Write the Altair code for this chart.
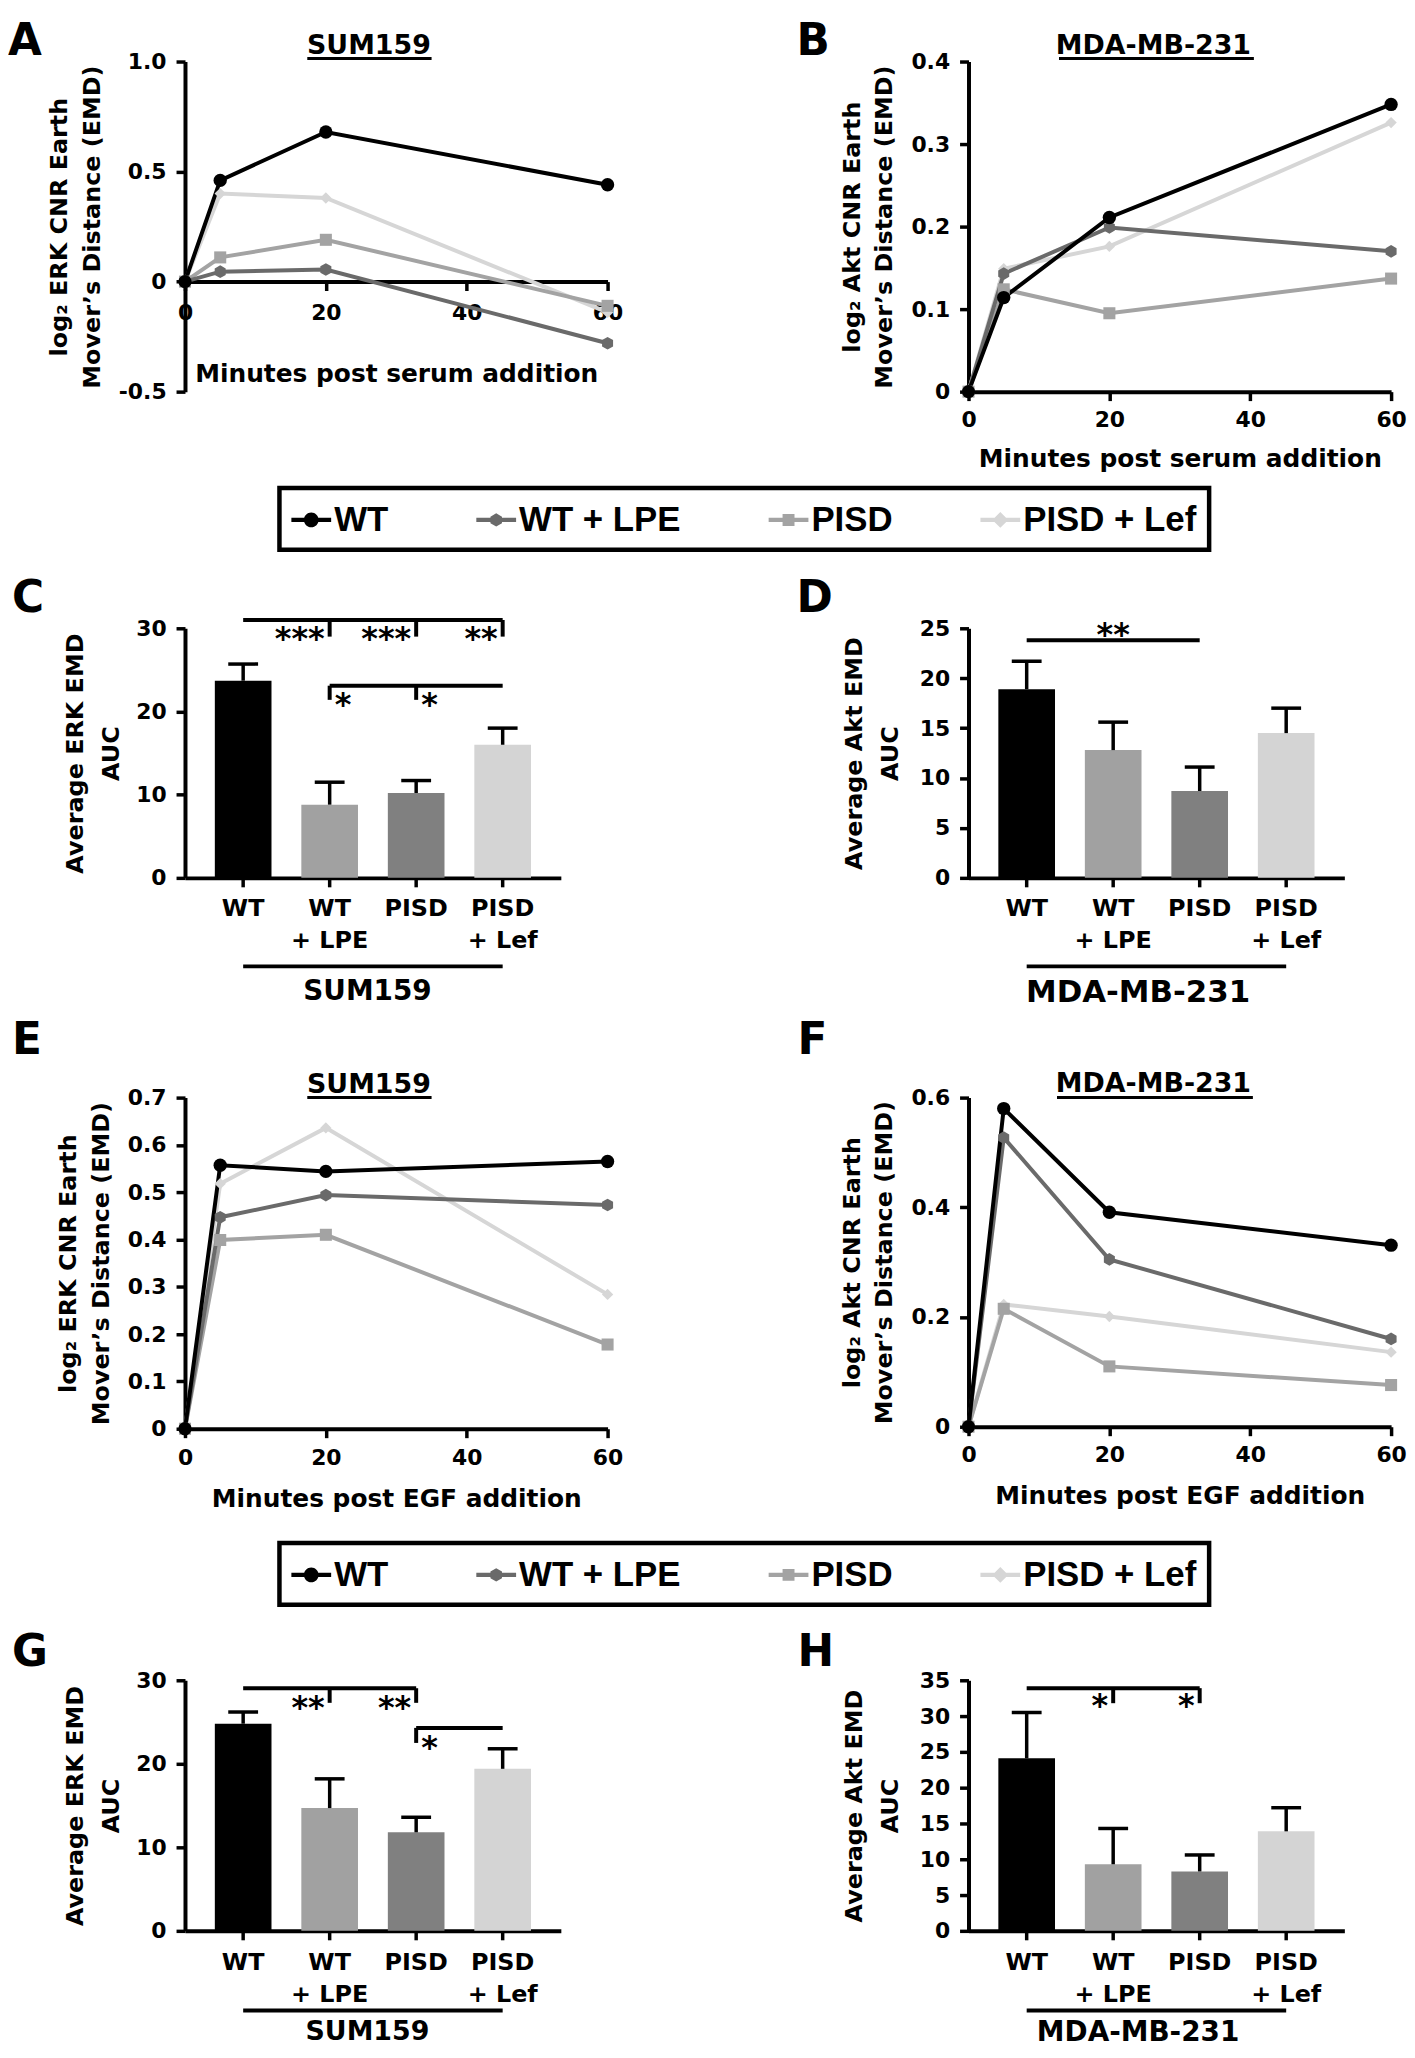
import altair as alt
import pandas as pd

# ---------------- data ----------------
SERIES = ["WT", "WT + LPE", "PISD", "PISD + Lef"]
TIMES = [0, 5, 20, 60]

# A: SUM159, ERK, serum
A_WT = [0.0, 0.46, 0.68, 0.44]
A_LPE = [0.0, 0.045, 0.055, -0.28]
A_PISD = [0.0, 0.11, 0.19, -0.11]
A_LEF = [0.0, 0.40, 0.38, -0.14]
# B: MDA-MB-231, Akt, serum
B_WT = [0.0, 0.114, 0.211, 0.348]
B_LPE = [0.0, 0.143, 0.199, 0.170]
B_PISD = [0.0, 0.124, 0.095, 0.137]
B_LEF = [0.0, 0.149, 0.176, 0.326]
# E: SUM159, ERK, EGF
E_WT = [0.0, 0.557, 0.544, 0.565]
E_LPE = [0.0, 0.447, 0.494, 0.473]
E_PISD = [0.0, 0.399, 0.410, 0.178]
E_LEF = [0.0, 0.518, 0.636, 0.284]
# F: MDA-MB-231, Akt, EGF
F_WT = [0.0, 0.580, 0.391, 0.331]
F_LPE = [0.0, 0.527, 0.305, 0.160]
F_PISD = [0.0, 0.215, 0.110, 0.076]
F_LEF = [0.0, 0.223, 0.201, 0.136]

BAR_CATS = ["WT", "WT\n+ LPE", "PISD", "PISD\n+ Lef"]
C_MEAN = [23.7, 8.8, 10.2, 16.0]
C_TOP = [25.7, 11.5, 11.7, 18.0]
D_MEAN = [18.9, 12.8, 8.7, 14.5]
D_TOP = [21.7, 15.6, 11.1, 17.0]
G_MEAN = [24.8, 14.7, 11.8, 19.4]
G_TOP = [26.2, 18.2, 13.6, 21.8]
H_MEAN = [24.1, 9.3, 8.3, 13.9]
H_TOP = [30.5, 14.3, 10.6, 17.2]

# significance brackets (category from, category to, level)
C_HLINES = [("WT", "PISD\n+ Lef", 31.0), ("WT\n+ LPE", "PISD\n+ Lef", 23.1)]
C_VTICKS = [("WT\n+ LPE", 31.0, 29.0), ("PISD", 31.0, 29.0), ("PISD\n+ Lef", 31.0, 29.0),
            ("WT\n+ LPE", 23.1, 21.4), ("PISD", 23.1, 21.4)]
C_STARS = [("WT\n+ LPE", "***", "right", 27.5), ("PISD", "***", "right", 27.5),
           ("PISD\n+ Lef", "**", "right", 27.5), ("WT\n+ LPE", "*", "left", 19.6),
           ("PISD", "*", "left", 19.6)]
D_HLINES = [("WT", "PISD", 23.8)]
D_VTICKS = []
D_STARS = [("WT\n+ LPE", "**", "center", 23.3)]
G_HLINES = [("WT", "PISD", 29.05), ("PISD", "PISD\n+ Lef", 24.3)]
G_VTICKS = [("WT\n+ LPE", 29.05, 27.3), ("PISD", 29.05, 27.3), ("PISD", 24.3, 22.5)]
G_STARS = [("WT\n+ LPE", "**", "right", 25.5), ("PISD", "**", "right", 25.5),
           ("PISD", "*", "left", 20.7)]
H_HLINES = [("WT", "PISD", 33.9)]
H_VTICKS = [("WT\n+ LPE", 33.9, 31.8), ("PISD", 33.9, 31.8)]
H_STARS = [("WT\n+ LPE", "*", "right", 30.0), ("PISD", "*", "right", 30.0)]

# ---------------- styles ----------------
LINE_COLORS = ["#000000", "#6a6a6a", "#a3a3a3", "#d6d6d6"]
BAR_COLORS = ["#000000", "#a1a1a1", "#808080", "#d4d4d4"]
MARKERS = ["circle", "M0,-1L0.866,-0.5L0.866,0.5L0,1L-0.866,0.5L-0.866,-0.5Z", "square", "diamond"]
MARKER_SIZES = [180, 130, 144, 190]
_BAR = "M-1,-0.11H1V0.11H-1Z "
LEG_SHAPES = [
    _BAR + "M0,-0.37A0.37,0.37,0,1,1,0,0.37A0.37,0.37,0,1,1,0,-0.37Z",
    _BAR + "M0,-0.33L0.29,-0.165L0.29,0.165L0,0.33L-0.29,0.165L-0.29,-0.165Z",
    _BAR + "M-0.3,-0.3H0.3V0.3H-0.3Z",
    _BAR + "M0,-0.4L0.4,0L0,0.4L-0.4,0Z",
]
LAB = "Liberation Sans"
TXT = "DejaVu Sans"
ONE = pd.DataFrame({"o": [0]})
YFMT = ("datum.value == 0 ? '0' : (datum.value < 0 ? '-' + format(-datum.value, '.1f') "
        ": format(datum.value, '.1f'))")

TOP_PAD = 6
LETTER_SIZE = 44
ROW_TOP = [56, 588, 1077, 1631]
COL_X = [186, 974]


def txt(text, x, y, size, font=TXT, align="left", baseline="alphabetic"):
    return alt.Chart(ONE).mark_text(text=text, font=font, fontSize=size, fontWeight="bold",
                                    align=align, baseline=baseline, color="black").encode(
        x=alt.value(x), y=alt.value(y))


def hrule(x1, x2, y, w=3):
    return alt.Chart(ONE).mark_rule(strokeWidth=w, color="black").encode(
        x=alt.value(x1), x2=alt.value(x2), y=alt.value(y))


def letter(ch, col, row, ax, ay):
    return txt(ch, ax - COL_X[col], ay - ROW_TOP[row], LETTER_SIZE)


def line_panel(vals, ydom, yvals, ytitle, xtitle, plot_h, pad, title, tcx, ul, ttl_base, ul_y,
               let, xoffset=0.0, xlabpad=10, xtitlepad=16, legend_y=None):
    width = 425
    H = pad + plot_h
    rows = []
    for i in [3, 2, 1, 0]:
        for t, v in zip(TIMES, vals[i]):
            rows.append({"series": SERIES[i], "t": t, "v": v})
    df = pd.DataFrame(rows)
    xsc = alt.Scale(domain=[0, 60], nice=False, zero=False)
    ysc = alt.Scale(domain=ydom, range=[H, pad], nice=False, zero=False)
    colsc = alt.Scale(domain=SERIES, range=LINE_COLORS)
    xax = alt.Axis(values=[0, 20, 40, 60], title=xtitle, offset=xoffset, labelPadding=xlabpad,
                   titlePadding=xtitlepad, labelFlush=False, labelOverlap=False, format="d",
                   titleFontSize=25)
    yax = alt.Axis(values=yvals, title=ytitle, labelExpr=YFMT, titleLineHeight=33,
                   titlePadding=14, labelFlush=False, labelOverlap=False, titleFontSize=24,
                   labelPadding=10)
    lines = alt.Chart(df).mark_line(strokeWidth=4).encode(
        x=alt.X("t:Q", scale=xsc, axis=xax),
        y=alt.Y("v:Q", scale=ysc, axis=yax),
        color=alt.Color("series:N", scale=colsc, legend=None))
    pts = alt.Chart(df).mark_point(filled=True, opacity=1, strokeWidth=0).encode(
        x=alt.X("t:Q", scale=xsc, axis=xax),
        y=alt.Y("v:Q", scale=ysc, axis=yax),
        color=alt.Color("series:N", scale=colsc, legend=None),
        shape=alt.Shape("series:N", scale=alt.Scale(domain=SERIES, range=MARKERS), legend=None),
        size=alt.Size("series:O", scale=alt.Scale(domain=SERIES, range=MARKER_SIZES), legend=None))
    layers = [lines, pts,
              txt(title, tcx, ttl_base, 27, align="center"),
              hrule(ul[0], ul[1], ul_y, 3),
              let]
    if legend_y is not None:
        leg = alt.Legend(orient="none", legendX=95, legendY=legend_y, direction="horizontal",
                         columns=4, title=None, padding=12, fillColor="white", strokeColor="black",
                         labelFont=LAB, labelFontSize=35, labelFontWeight="bold",
                         labelColor="black", labelOffset=3, columnPadding=88, symbolSize=1600,
                         symbolStrokeWidth=0, symbolOpacity=1, labelLimit=400)
        leg_layer = alt.Chart(pd.DataFrame({"key": SERIES})).transform_filter("false").mark_point(
            filled=True, size=1600, opacity=1).encode(
            color=alt.Color("key:N", scale=alt.Scale(domain=SERIES, range=LINE_COLORS), legend=leg),
            shape=alt.Shape("key:N", scale=alt.Scale(domain=SERIES, range=LEG_SHAPES), legend=leg))
        layers.append(leg_layer)
    ch = alt.layer(*layers).properties(width=width, height=H)
    if legend_y is not None:
        ch = ch.resolve_scale(color="independent", shape="independent", size="independent")
    return ch


def bar_panel(means, tops, ymax, yvals, ytitle, group, plot_h, pad, hlines, vticks, stars,
              let, rule_y, xtitlepad=25, xlabpad=10, gfont=28, gx=183, ytitlepad=14):
    width = 378
    H = pad + plot_h
    df = pd.DataFrame({"cat": BAR_CATS, "mean": means, "top": tops})
    xsc = alt.Scale(domain=BAR_CATS, paddingInner=0.345, paddingOuter=0.345)
    ysc = alt.Scale(domain=[0, ymax], range=[H, pad], nice=False, zero=True)
    xax = alt.Axis(title=group, labelExpr="split(datum.label, '\\n')", labelAngle=0,
                   labelFontSize=24, labelLineHeight=32, tickSize=9, labelPadding=xlabpad,
                   titlePadding=xtitlepad, titleFontSize=gfont, titleX=gx, labelBaseline="top",
                   labelAlign="center")
    yax = alt.Axis(values=yvals, title=ytitle, format="d", titleLineHeight=36,
                   titlePadding=ytitlepad, labelFlush=False, labelOverlap=False,
                   titleFontSize=24, labelPadding=10)
    X = lambda f: alt.X(f, scale=xsc, axis=xax)
    Y = lambda f: alt.Y(f, scale=ysc, axis=yax)
    bars = alt.Chart(df).mark_bar().encode(
        x=X("cat:N"), y=Y("mean:Q"),
        color=alt.Color("cat:N", scale=alt.Scale(domain=BAR_CATS, range=BAR_COLORS), legend=None))
    err = alt.Chart(df).mark_rule(strokeWidth=3.5, color="black").encode(
        x=X("cat:N"), y=Y("mean:Q"), y2=alt.Y2("top"))
    caps = alt.Chart(df).mark_tick(color="black", thickness=3.5, size=30, opacity=1).encode(
        x=X("cat:N"), y=Y("top:Q"))
    layers = [bars, err, caps]
    hdf = pd.DataFrame(hlines, columns=["a", "b", "y"])
    layers.append(alt.Chart(hdf).mark_rule(strokeWidth=4, color="black").encode(
        x=X("a:N"), x2=alt.X2("b"), y=Y("y:Q")))
    if vticks:
        vdf = pd.DataFrame(vticks, columns=["a", "y", "y2"])
        layers.append(alt.Chart(vdf).mark_rule(strokeWidth=4, color="black").encode(
            x=X("a:N"), y=Y("y:Q"), y2=alt.Y2("y2")))
    sdf = pd.DataFrame(stars, columns=["a", "s", "side", "y"])
    for side, dx in [("right", -5), ("left", 5), ("center", 0)]:
        sub = sdf[sdf["side"] == side]
        if len(sub):
            layers.append(alt.Chart(sub).mark_text(
                align=side, dx=dx, baseline="alphabetic", font=TXT, fontSize=32,
                fontWeight="bold", color="black").encode(
                x=X("a:N"), y=Y("y:Q"), text="s:N"))
    gdf = pd.DataFrame({"a": [BAR_CATS[0]], "b": [BAR_CATS[-1]]})
    layers.append(alt.Chart(gdf).mark_rule(strokeWidth=4, color="black").encode(
        x=X("a:N"), x2=alt.X2("b"), y=alt.value(rule_y)))
    layers.append(let)
    return alt.layer(*layers).properties(width=width, height=H)


LOG_ERK = ["log\u2082 ERK CNR Earth", "Mover\u2019s Distance (EMD)"]
LOG_AKT = ["log\u2082 Akt CNR Earth", "Mover\u2019s Distance (EMD)"]
AUC_ERK = ["Average ERK EMD", "AUC"]
AUC_AKT = ["Average Akt EMD", "AUC"]

LB = 43 + TOP_PAD  # baseline of the row-1 letters (abs px)
pA = line_panel([A_WT, A_LPE, A_PISD, A_LEF], [-0.5, 1.0], [-0.5, 0, 0.5, 1.0], LOG_ERK,
                "Minutes post serum addition", 332, 0, "SUM159", 185, (123, 248), -8, -3,
                letter("A", 0, 0, 8, LB), xoffset=-110.7, xlabpad=12, xtitlepad=38,
                legend_y=429)
pB = line_panel([B_WT, B_LPE, B_PISD, B_LEF], [0, 0.4], [0, 0.1, 0.2, 0.3, 0.4], LOG_AKT,
                "Minutes post serum addition", 332, 0, "MDA-MB-231", 186, (91, 287), -8, -3,
                letter("B", 1, 0, 801, LB), xlabpad=9, xtitlepad=16)
pC = bar_panel(C_MEAN, C_TOP, 30, [0, 10, 20, 30], AUC_ERK, "SUM159", 251, 38,
               C_HLINES, C_VTICKS, C_STARS, letter("C", 0, 1, 12, 610), 378,
               xtitlepad=25, xlabpad=10, gfont=28, gx=183, ytitlepad=12)
pD = bar_panel(D_MEAN, D_TOP, 25, [0, 5, 10, 15, 20, 25], AUC_AKT, "MDA-MB-231", 251, 38,
               D_HLINES, D_VTICKS, D_STARS, letter("D", 1, 1, 801, 610), 378,
               xtitlepad=25, xlabpad=10, gfont=31, gx=170, ytitlepad=17)
pE = line_panel([E_WT, E_LPE, E_PISD, E_LEF], [0, 0.7], [0, 0.1, 0.2, 0.3, 0.4, 0.5, 0.6, 0.7],
                LOG_ERK, "Minutes post EGF addition", 333, 21, "SUM159", 185, (123, 248), 16, 21,
                letter("E", 0, 2, 12, 1054), xlabpad=10, xtitlepad=18, legend_y=469)
pF = line_panel([F_WT, F_LPE, F_PISD, F_LEF], [0, 0.6], [0, 0.2, 0.4, 0.6], LOG_AKT,
                "Minutes post EGF addition", 331, 21, "MDA-MB-231", 186, (89, 286), 15, 21,
                letter("F", 1, 2, 802, 1054), xlabpad=9, xtitlepad=18)
pG = bar_panel(G_MEAN, G_TOP, 30, [0, 10, 20, 30], AUC_ERK, "SUM159", 252, 53,
               G_HLINES, G_VTICKS, G_STARS, letter("G", 0, 3, 12, 1670), 385,
               xtitlepad=12, xlabpad=11, gfont=27, gx=183, ytitlepad=12)
pH = bar_panel(H_MEAN, H_TOP, 35, [0, 5, 10, 15, 20, 25, 30, 35], AUC_AKT, "MDA-MB-231", 252, 53,
               H_HLINES, H_VTICKS, H_STARS, letter("H", 1, 3, 802, 1670), 385,
               xtitlepad=12, xlabpad=11, gfont=28, gx=170, ytitlepad=17)

chart = alt.concat(pA, pB, pC, pD, pE, pF, pG, pH, columns=2,
                   spacing={"row": 200, "column": 363}, bounds="flush", align="each",
                   padding={"top": TOP_PAD, "left": 0, "right": 0, "bottom": 0}
                   ).resolve_scale(color="independent", shape="independent",
                                   size="independent").configure_view(stroke=None).configure_axis(
    domainColor="black", domainWidth=4, tickColor="black", tickWidth=3.5, tickSize=9,
    labelFont=TXT, labelFontWeight="bold", labelFontSize=22, labelColor="black",
    labelPadding=10, titleFont=TXT, titleFontWeight="bold", titleColor="black", grid=False
).configure_legend(strokeWidth=4.5)

chart.save("out.html", embed_options={"renderer": "svg", "actions": False})
